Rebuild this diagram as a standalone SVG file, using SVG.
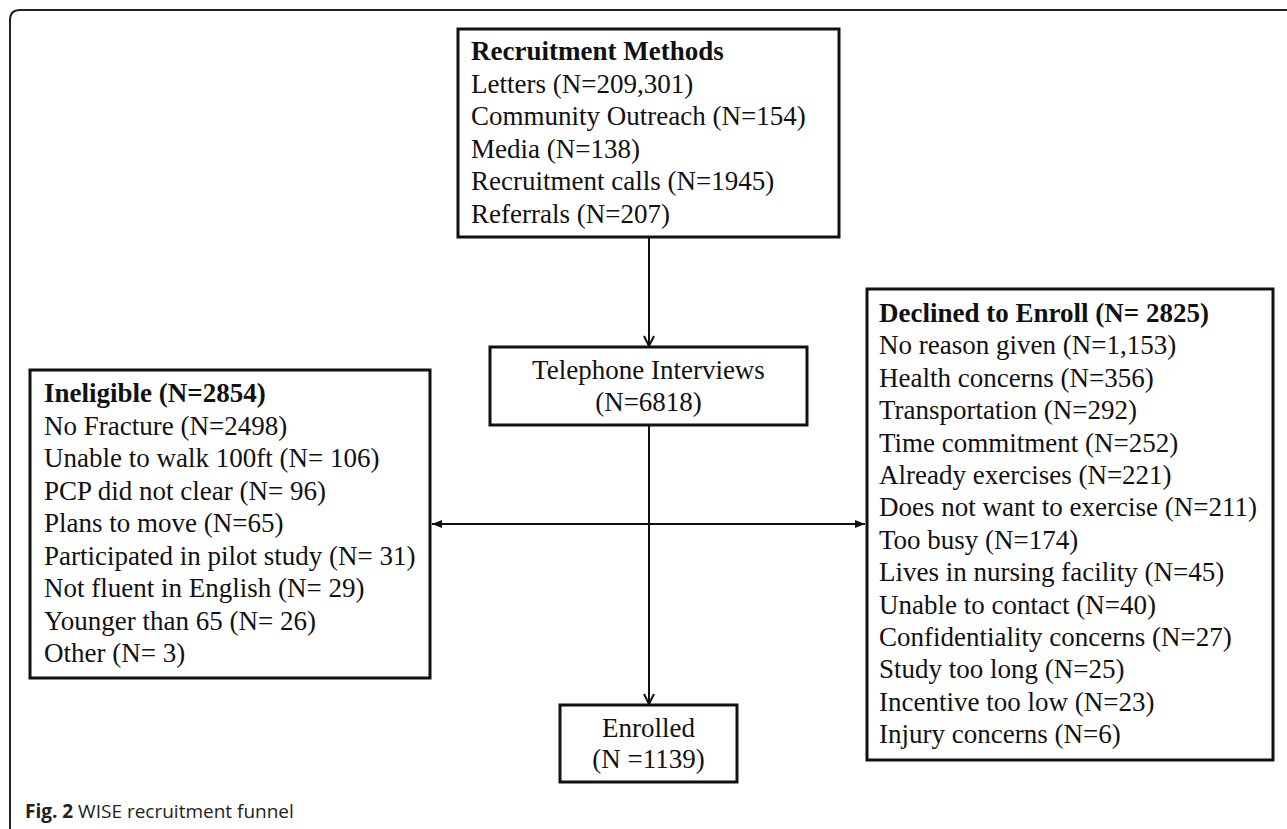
<svg xmlns="http://www.w3.org/2000/svg" width="1287" height="829" viewBox="0 0 1287 829">
<style>
.box{fill:#fff;stroke:#111;stroke-width:3}
.t{font-family:"Liberation Serif","Times New Roman",serif;font-size:27px;fill:#111}
.b{font-weight:bold}
.c{text-anchor:middle}
.ln{stroke:#111;stroke-width:2;fill:none}
.cap{font-family:"Open Sans","Noto Sans",sans-serif;font-size:19px;fill:#222}
</style>
<defs>
<marker id="chev" viewBox="0 0 12 12" refX="11" refY="6" markerWidth="12" markerHeight="12" markerUnits="userSpaceOnUse" orient="auto">
<path d="M1,1 L11,6 L1,11" fill="none" stroke="#111" stroke-width="2"/>
</marker>
<marker id="tri" viewBox="0 0 10 8" refX="10" refY="4" markerWidth="10" markerHeight="8" markerUnits="userSpaceOnUse" orient="auto-start-reverse">
<path d="M0,0 L10,4 L0,8 Z" fill="#111"/>
</marker>
</defs>
<rect width="1287" height="829" fill="#fff"/>
<path d="M10,829 V20 Q10,10 20,10 H1287" fill="none" stroke="#222" stroke-width="2"/>

<g id="connectors">
<line class="ln" x1="649" y1="238" x2="649" y2="346" marker-end="url(#chev)"/>
<line class="ln" x1="649" y1="426" x2="649" y2="704" marker-end="url(#chev)"/>
<line class="ln" x1="432" y1="524" x2="865" y2="524" marker-start="url(#tri)" marker-end="url(#tri)"/>
</g>

<g id="recruitment">
<rect class="box" x="458" y="29" width="381" height="208"/>
<text class="t b" x="471" y="60">Recruitment Methods</text>
<text class="t" x="471" y="92.5">Letters (N=209,301)</text>
<text class="t" x="471" y="125">Community Outreach (N=154)</text>
<text class="t" x="471" y="157.5">Media (N=138)</text>
<text class="t" x="471" y="190">Recruitment calls (N=1945)</text>
<text class="t" x="471" y="222.5">Referrals (N=207)</text>
</g>

<g id="telephone">
<rect class="box" x="490" y="347" width="317" height="78"/>
<text class="t c" x="648.5" y="379">Telephone Interviews</text>
<text class="t c" x="648.5" y="411">(N=6818)</text>
</g>

<g id="ineligible">
<rect class="box" x="30" y="370" width="400" height="308"/>
<text class="t b" x="44" y="402">Ineligible (N=2854)</text>
<text class="t" x="44" y="434.5">No Fracture (N=2498)</text>
<text class="t" x="44" y="467">Unable to walk 100ft (N= 106)</text>
<text class="t" x="44" y="499.5">PCP did not clear (N= 96)</text>
<text class="t" x="44" y="532">Plans to move (N=65)</text>
<text class="t" x="44" y="564.5">Participated in pilot study (N= 31)</text>
<text class="t" x="44" y="597">Not fluent in English (N= 29)</text>
<text class="t" x="44" y="629.5">Younger than 65 (N= 26)</text>
<text class="t" x="44" y="662">Other (N= 3)</text>
</g>

<g id="declined">
<rect class="box" x="867" y="289" width="406" height="471"/>
<text class="t b" x="879" y="322">Declined to Enroll (N= 2825)</text>
<text class="t" x="879" y="354.4">No reason given (N=1,153)</text>
<text class="t" x="879" y="386.8">Health concerns (N=356)</text>
<text class="t" x="879" y="419.2">Transportation (N=292)</text>
<text class="t" x="879" y="451.6">Time commitment (N=252)</text>
<text class="t" x="879" y="484">Already exercises (N=221)</text>
<text class="t" x="879" y="516.4">Does not want to exercise (N=211)</text>
<text class="t" x="879" y="548.8">Too busy (N=174)</text>
<text class="t" x="879" y="581.2">Lives in nursing facility (N=45)</text>
<text class="t" x="879" y="613.6">Unable to contact (N=40)</text>
<text class="t" x="879" y="646">Confidentiality concerns (N=27)</text>
<text class="t" x="879" y="678.4">Study too long (N=25)</text>
<text class="t" x="879" y="710.8">Incentive too low (N=23)</text>
<text class="t" x="879" y="743.2">Injury concerns (N=6)</text>
</g>

<g id="enrolled">
<rect class="box" x="560" y="705" width="177" height="77"/>
<text class="t c" x="648.5" y="737">Enrolled</text>
<text class="t c" x="648.5" y="768">(N =1139)</text>
</g>

<text class="cap" x="25" y="818"><tspan font-weight="bold">Fig. 2</tspan> WISE recruitment funnel</text>
</svg>
